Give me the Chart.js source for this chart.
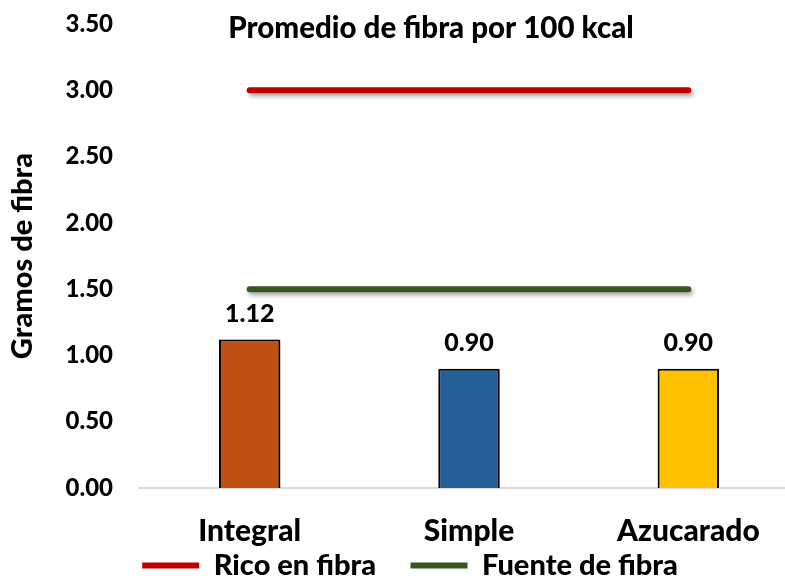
<!DOCTYPE html>
<html>
<head>
<meta charset="utf-8">
<script src="https://cdn.jsdelivr.net/npm/chart.js@4.4.1/dist/chart.umd.min.js"></script>
<style>
  html, body { margin: 0; padding: 0; overflow: hidden; background: #fff; }
  #wrap { width: 798px; height: 578px; }
</style>
</head>
<body>
<div id="wrap"><canvas id="fibra" width="798" height="578"></canvas></div>
<script>
const categories = ["Integral", "Simple", "Azucarado"];
const fibraPromedio = [1.12, 0.90, 0.90];
const ricoEnFibra = [3.00, 3.00, 3.00];
const fuenteDeFibra = [1.50, 1.50, 1.50];
const barColors = ["#C05014", "#245F9A", "#FFC000"];

const FONT = "Lato";
const W = "900";

// sombra suave bajo barras y lineas
const shadowPlugin = {
	id: "shadow",
	beforeDatasetDraw(chart) {
		const c = chart.ctx;
		c.save();
		c.shadowColor = "rgba(0,0,0,0.35)";
		c.shadowBlur = 4;
		c.shadowOffsetX = 2;
		c.shadowOffsetY = 3;
	},
	afterDatasetDraw(chart) {
		chart.ctx.restore();
	},
};

// etiquetas de valor y titulo dentro del area
const labelsPlugin = {
	id: "labels",
	afterDatasetsDraw(chart) {
		const c = chart.ctx;
		c.save();
		c.fillStyle = "#000";
		c.textAlign = "center";
		c.textBaseline = "alphabetic";
		c.font = W + " 25px " + FONT;
		chart.getDatasetMeta(0).data.forEach((bar, i) => {
			c.fillText(fibraPromedio[i].toFixed(2), bar.x, bar.y - 18);
		});
		c.font = W + " 29.5px " + FONT;
		c.fillText("Promedio de fibra por 100 kcal", 431, 38);
		c.restore();
	},
};

const baseLabels = Chart.defaults.plugins.legend.labels.generateLabels;

new Chart(document.getElementById("fibra"), {
	data: {
		labels: categories,
		datasets: [{
			type: "bar",
			label: "Promedio",
			data: fibraPromedio,
			backgroundColor: barColors,
			borderColor: "#000",
			borderWidth: 2,
			borderSkipped: "bottom",
			categoryPercentage: 1,
			barPercentage: 0.28,
			order: 2,
		}, {
			type: "line",
			label: "Rico en fibra",
			data: ricoEnFibra,
			borderColor: "#C00000",
			backgroundColor: "#C00000",
			borderWidth: 6,
			borderCapStyle: "round",
			pointRadius: 0,
			order: 1,
		}, {
			type: "line",
			label: "Fuente de fibra",
			data: fuenteDeFibra,
			borderColor: "#375623",
			backgroundColor: "#375623",
			borderWidth: 6,
			borderCapStyle: "round",
			pointRadius: 0,
			order: 1,
		}],
	},
	options: {
		responsive: false,
		animation: false,
		layout: { padding: { top: 24, right: 0, left: 22, bottom: -12 } },
		plugins: {
			legend: {
				position: "bottom",
				labels: {
					// hueco entre entradas sin aumentar el alto de la leyenda
					generateLabels: (chart) => baseLabels(chart).map((it) => {
						if (it.datasetIndex === 1) it.text = it.text + "     ";
						return it;
					}),
					filter: (item) => item.datasetIndex > 0,
					usePointStyle: true,
					pointStyle: "line",
					pointStyleWidth: 57,
					color: "#000",
					padding: 0,
					font: { family: FONT, size: 29, weight: W },
				},
			},
			tooltip: { enabled: false },
		},
		scales: {
			x: {
				offset: true,
				grid: { display: false, drawTicks: false },
				border: { display: true, color: "#D9D9D9", width: 2 },
				ticks: {
					color: "#000",
					padding: 25,
					font: { family: FONT, size: 30, weight: W },
				},
				afterFit: (s) => { s.height = 63; },
			},
			y: {
				min: 0,
				max: 3.5,
				grid: { display: false, drawTicks: false },
				border: { display: false },
				ticks: {
					stepSize: 0.5,
					color: "#000",
					padding: 27,
					font: { family: FONT, size: 24, weight: W },
					callback: (v) => Number(v).toFixed(2),
				},
				title: {
					display: true,
					text: "Gramos de fibra",
					color: "#000",
					padding: { top: -17, bottom: 0 },
					font: { family: FONT, size: 29, weight: W },
				},
				afterFit: (s) => {
					s.width = 118;
					s.paddingTop = 0;
					s.paddingBottom = 0;
				},
			},
		},
	},
	plugins: [shadowPlugin, labelsPlugin],
});
</script>
</body>
</html>
